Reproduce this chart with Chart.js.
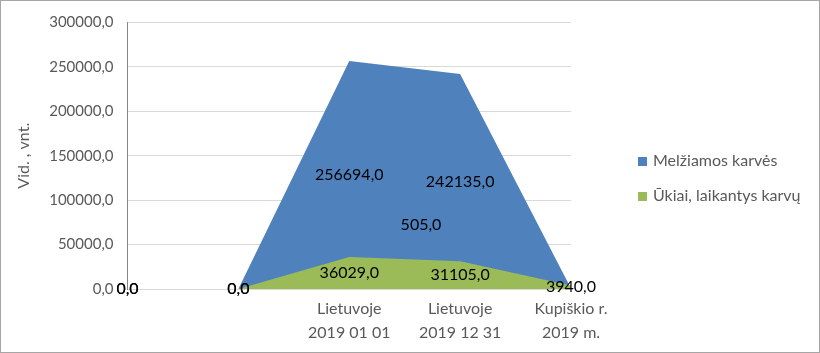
<!DOCTYPE html>
<html>
<head>
<meta charset="utf-8">
<script src="https://cdn.jsdelivr.net/npm/chart.js@4.4.1/dist/chart.umd.min.js"></script>
<style>
  html, body { margin: 0; padding: 0; background: #fff; }
  #wrap { width: 820px; height: 353px; box-sizing: border-box; border: 1px solid #a6a6a6; position: relative; }
</style>
</head>
<body>
<div id="wrap"><canvas id="cowsChart"></canvas></div>
<script>
const categories = [[''], [''], ['Lietuvoje', '2019 01 01'], ['Lietuvoje', '2019 12 31'], ['Kupiškio r.', '2019 m.']];
const milkCows = [0, 0, 256694, 242135, 505];
const farmsWithCows = [0, 0, 36029, 31105, 3940];
const yTicks = [0, 50000, 100000, 150000, 200000, 250000, 300000];

const FONT = 'Lato, "Liberation Sans", sans-serif';
const fmt = v => v.toFixed(1).replace('.', ',');

// labels sit halfway up each area, like Excel does
const areaLabels = {
  id: 'areaLabels',
  afterDatasetsDraw(chart, args, opts) {
    const ctx = chart.ctx;
    const yScale = chart.scales.y;
    ctx.save();
    ctx.font = '16px ' + FONT;
    ctx.fillStyle = '#000';
    ctx.textAlign = 'center';
    ctx.textBaseline = 'middle';
    chart.data.datasets.forEach((ds, di) => {
      const meta = chart.getDatasetMeta(di);
      meta.data.forEach((pt, i) => {
        const off = (opts.offsets[di] && opts.offsets[di][i]) || [0, 0];
        const y = (pt.y + yScale.getPixelForValue(0)) / 2;
        ctx.fillText(fmt(ds.data[i]), pt.x + off[0], y + off[1]);
      });
    });
    ctx.restore();
  }
};

// legend drawn to the right of the plot, away from the chart area
const sideLegend = {
  id: 'sideLegend',
  afterDraw(chart, args, opts) {
    const ctx = chart.ctx;
    ctx.save();
    ctx.font = '16px ' + FONT;
    ctx.textBaseline = 'middle';
    chart.data.datasets.forEach((ds, i) => {
      const y = opts.top + i * opts.rowGap;
      ctx.fillStyle = ds.backgroundColor;
      ctx.fillRect(opts.left, y - 4, 9, 9);
      ctx.fillStyle = '#595959';
      ctx.fillText(ds.label, opts.left + 15, y);
    });
    ctx.restore();
  }
};

new Chart(document.getElementById('cowsChart'), {
  type: 'line',
  data: {
    labels: categories,
    datasets: [
      { label: 'Melžiamos karvės', data: milkCows, backgroundColor: '#4f81bd', borderWidth: 0, pointRadius: 0, fill: 'origin', tension: 0, order: 1 },
      { label: 'Ūkiai, laikantys karvų', data: farmsWithCows, backgroundColor: '#9bbb59', borderWidth: 0, pointRadius: 0, fill: 'origin', tension: 0, order: 0 }
    ]
  },
  options: {
    responsive: true,
    maintainAspectRatio: false,
    animation: false,
    layout: { padding: { top: 0, right: 248, bottom: 7, left: 9 } },
    plugins: {
      tooltip: { enabled: false },
      legend: { display: false },
      sideLegend: { left: 637, top: 160, rowGap: 35 },
      areaLabels: { offsets: { 0: { 4: [-150, -64] } } }
    },
    scales: {
      x: {
        offset: false,
        grid: { display: false },
        border: { display: false },
        ticks: { padding: 0, color: '#595959', font: { family: FONT, size: 16, lineHeight: 1.5 }, maxRotation: 0, autoSkip: false }
      },
      y: {
        min: 0, max: 300000,
        afterBuildTicks: axis => { axis.ticks = yTicks.map(v => ({ value: v })); },
        grid: { color: '#d9d9d9', drawTicks: false },
        border: { display: true, color: '#868686' },
        ticks: { padding: 14, color: '#595959', font: { family: FONT, size: 15, lineHeight: 1 }, callback: v => fmt(v) },
        title: { display: true, text: 'Vid. , vnt.', color: '#595959', font: { family: FONT, size: 16 }, padding: { bottom: 2 } }
      }
    }
  },
  plugins: [areaLabels, sideLegend]
});
</script>
</body>
</html>
